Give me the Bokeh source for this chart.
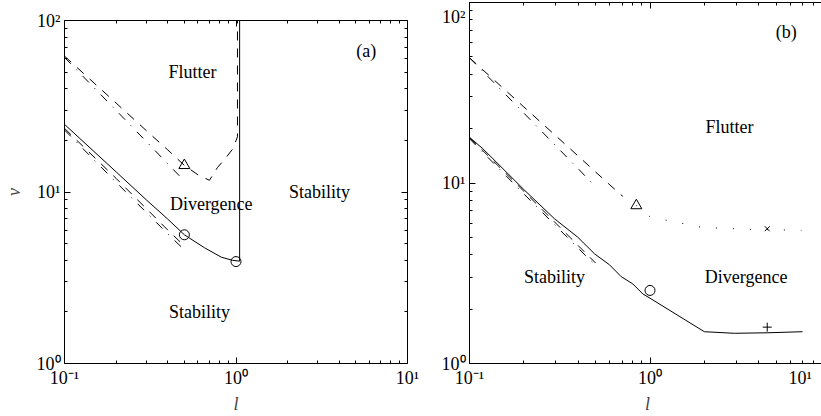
from bokeh.plotting import figure
from bokeh.models import LogAxis, FixedTicker, CustomJSTickFormatter, Label
from bokeh.layouts import row
from bokeh.embed import file_html
from bokeh.resources import INLINE

# ---------------- data: panel (a) ----------------
a_solid_l = [0.1, 0.2, 0.3, 0.4, 0.5, 0.655, 0.82, 0.95, 1.05, 1.05]
a_solid_v = [24.8, 13.1, 9.0, 6.95, 5.63, 4.73, 4.17, 4.0, 3.95, 100]

a_low_dash_l = [0.1, 0.2, 0.3, 0.4, 0.5]
a_low_dash_v = [23.5, 12.0, 8.0, 6.0, 4.85]
a_low_dashdot_l = [0.1, 0.2, 0.3, 0.4, 0.5]
a_low_dashdot_v = [23.0, 11.4, 7.6, 5.7, 4.6]

a_up_dash_l = [0.1, 0.2, 0.3, 0.4, 0.5, 0.6, 0.7, 0.78, 0.88, 0.96, 1.02, 1.02]
a_up_dash_v = [62, 33, 22.8, 17.6, 14.3, 12.6, 11.7, 13.9, 16.0, 17.9, 21, 100]
a_up_dashdot_l = [0.1, 0.2, 0.3, 0.4, 0.5]
a_up_dashdot_v = [61, 29.9, 19.7, 14.6, 11.6]

a_tri_l, a_tri_v = [0.5], [14.3]
a_circ_l, a_circ_v = [0.5, 1.0], [5.63, 3.93]

# ---------------- data: panel (b) ----------------
b_solid_l = [0.1, 0.1185, 0.2, 0.296, 0.398, 0.493, 0.597, 0.692, 0.803, 0.912,
             1.0, 2.0, 2.94, 4.5, 7.0]
b_solid_v = [17.9, 15.5, 9.2, 6.33, 5.01, 4.05, 3.52, 3.03, 2.76, 2.43,
             2.3, 1.50, 1.47, 1.48, 1.50]

b_low_dash_l = [0.1, 0.2, 0.3, 0.4, 0.5]
b_low_dash_v = [17.9, 9.0, 6.0, 4.5, 3.6]
b_low_dashdot_l = [0.1, 0.2, 0.3, 0.4, 0.5]
b_low_dashdot_v = [17.6, 8.7, 5.8, 4.35, 3.5]

b_up_dash_l = [0.1, 0.2, 0.3, 0.4, 0.5, 0.6, 0.7]
b_up_dash_v = [49.4, 26.4, 18.3, 14.1, 11.5, 9.75, 8.5]
b_up_dashdot_l = [0.1, 0.2, 0.3, 0.4, 0.5]
b_up_dashdot_v = [49.4, 24.4, 16.1, 12.0, 9.5]

b_dot_l = [0.7, 0.84, 1.0, 1.25, 1.55, 1.92, 2.37, 2.94, 3.64, 4.46, 6.9]
b_dot_v = [8.5, 7.5, 6.5, 6.2, 5.94, 5.69, 5.62, 5.58, 5.53, 5.52, 5.47]

b_tri_l, b_tri_v = [0.84], [7.5]
b_circ_l, b_circ_v = [1.0], [2.54]
b_x_l, b_x_v = [4.46], [5.58]
b_plus_l, b_plus_v = [4.46], [1.59]

major_ticks = [0.1, 1, 10, 100]
minor_ticks = [k * 10.0 ** e for e in (-1, 0, 1) for k in range(2, 10)]

FONT = "Liberation Serif"
SUP = {"-1": "\u207b\u00b9", "0": "\u2070", "1": "\u00b9", "2": "\u00b2"}


def fmt_code(drop_top=False):
    code = ("const sup = {\"-1\":\"%s\",\"0\":\"%s\",\"1\":\"%s\",\"2\":\"%s\"};"
            "const lg = Math.log10(tick);"
            "const e = Math.round(lg);"
            "const s = sup[String(e)];"
            "if (s === undefined) return '';"
            "if (Math.abs(lg - e) > 0.001) return '10' + s + '\u00a0'.repeat(3);") % (
                SUP["-1"], SUP["0"], SUP["1"], SUP["2"])
    if drop_top:
        code += "if (e == 2) return '\\n10' + s;"
    code += "return '10' + s;"
    return code


DASH = "9 8"
DASHDOT = "9 8 1 8"
DOT = "1 16"


def style_axis(ax, ticks, labels=True, drop_top=False):
    ax.ticker = FixedTicker(ticks=ticks, minor_ticks=minor_ticks)
    ax.axis_line_color = "black"
    ax.major_tick_line_color = "black"
    ax.minor_tick_line_color = "black"
    ax.major_tick_in = 6
    ax.major_tick_out = 0
    ax.minor_tick_in = 3
    ax.minor_tick_out = 0
    if labels:
        ax.formatter = CustomJSTickFormatter(code=fmt_code(drop_top))
        ax.major_label_text_font = FONT
        ax.major_label_text_font_size = "18px"
        ax.major_label_text_color = "black"
        ax.major_label_standoff = 4
    else:
        ax.formatter = CustomJSTickFormatter(code="return '';")
        ax.major_label_text_font_size = "1px"
        ax.major_label_text_alpha = 0
        ax.major_label_standoff = 0


def make_panel(xmax, fw, fh, bl, bt, br, bb, xticks, extra_right=True, drop_top=False):
    p = figure(x_axis_type="log", y_axis_type="log", x_range=(0.1, xmax), y_range=(1, 100),
               frame_width=fw, frame_height=fh, title=None,
               min_border_left=bl, min_border_top=bt, min_border_right=br, min_border_bottom=bb,
               output_backend="svg", toolbar_location=None)
    p.grid.visible = False
    p.outline_line_color = "black"
    p.outline_line_width = 1
    style_axis(p.xaxis[0], xticks)
    style_axis(p.yaxis[0], major_ticks, drop_top=drop_top)
    p.xaxis[0].axis_label = "l"
    p.xaxis[0].axis_label_text_font = FONT
    p.xaxis[0].axis_label_text_font_style = "italic"
    p.xaxis[0].axis_label_text_font_size = "18px"
    p.xaxis[0].axis_label_standoff = 3
    top = LogAxis()
    style_axis(top, major_ticks, labels=False)
    p.add_layout(top, "above")
    if extra_right:
        right = LogAxis()
        style_axis(right, major_ticks, labels=False)
        p.add_layout(right, "right")
    return p


def txt(p, x, y, s, size="18px", style="normal"):
    p.add_layout(Label(x=x, y=y, text=s, text_font=FONT, text_font_size=size,
                       text_font_style=style, text_align="center", text_baseline="middle",
                       text_color="black"))


# ---------------- panel (a) ----------------
A_TOP = 20
pa = make_panel(10, 343, 343, 60, A_TOP, 17, 53, major_ticks)
pa.yaxis[0].axis_label = "v"
pa.yaxis[0].axis_label_text_font = FONT
pa.yaxis[0].axis_label_text_font_style = "italic"
pa.yaxis[0].axis_label_text_font_size = "18px"
pa.yaxis[0].axis_label_standoff = 10

pa.line(a_solid_l, a_solid_v, line_color="black", line_width=1)
pa.line(a_low_dash_l, a_low_dash_v, line_color="black", line_width=1, line_dash=DASH)
pa.line(a_low_dashdot_l, a_low_dashdot_v, line_color="black", line_width=1, line_dash=DASHDOT)
pa.line(a_up_dash_l, a_up_dash_v, line_color="black", line_width=1, line_dash=DASH)
pa.line(a_up_dashdot_l, a_up_dashdot_v, line_color="black", line_width=1, line_dash=DASHDOT)
pa.scatter(a_tri_l, a_tri_v, marker="triangle", size=11, fill_color=None, line_color="black")
pa.scatter(a_circ_l, a_circ_v, marker="circle", size=10, fill_color=None, line_color="black")

txt(pa, 0.557, 49.8, "Flutter")
txt(pa, 0.717, 8.54, "Divergence")
txt(pa, 0.613, 1.99, "Stability")
txt(pa, 3.07, 9.97, "Stability")
txt(pa, 5.74, 66.8, "(a)")

# ---------------- panel (b) ----------------
B_XMAX = 9.38
B_TOP = 2
pb = make_panel(B_XMAX, 356, 361, 45, A_TOP, 0, 53, [0.1, 1, B_XMAX],
                extra_right=False, drop_top=True)
# the row gives both panels the same top border; lift panel (b) so its frame starts near the top
pb.margin = (B_TOP - A_TOP, 0, 0, 0)

pb.line(b_solid_l, b_solid_v, line_color="black", line_width=1)
pb.line(b_low_dash_l, b_low_dash_v, line_color="black", line_width=1, line_dash=DASH)
pb.line(b_low_dashdot_l, b_low_dashdot_v, line_color="black", line_width=1, line_dash=DASHDOT)
pb.line(b_up_dash_l, b_up_dash_v, line_color="black", line_width=1, line_dash=DASH)
pb.line(b_up_dashdot_l, b_up_dashdot_v, line_color="black", line_width=1, line_dash=DASHDOT)
pb.line(b_dot_l, b_dot_v, line_color="black", line_width=1, line_dash=DOT)
pb.scatter(b_tri_l, b_tri_v, marker="triangle", size=11, fill_color=None, line_color="black")
pb.scatter(b_circ_l, b_circ_v, marker="circle", size=10, fill_color=None, line_color="black")
pb.scatter(b_x_l, b_x_v, marker="x", size=7, line_color="black")
pb.scatter(b_plus_l, b_plus_v, marker="cross", size=9, line_color="black")

txt(pb, 2.76, 20.4, "Flutter")
txt(pb, 3.41, 3.01, "Divergence")
txt(pb, 0.296, 3.01, "Stability")
txt(pb, 5.68, 68.5, "(b)")

layout = row(pa, pb)
open("out.html", "w").write(file_html(layout, INLINE))
